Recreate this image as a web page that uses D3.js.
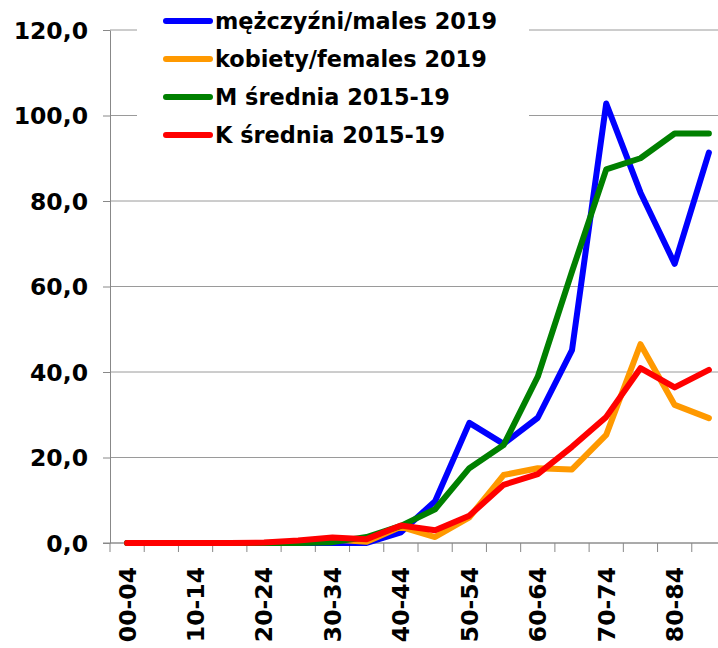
<!DOCTYPE html>
<html>
<head>
<meta charset="utf-8">
<script src="https://cdn.jsdelivr.net/npm/d3@7"></script>
<style>
  html, body { margin: 0; padding: 0; background: #fff; }
  svg { display: block; }
  text { font-family: "DejaVu Sans", Verdana, sans-serif; font-weight: bold; fill: #000; }
</style>
</head>
<body>
<svg id="chart" width="718" height="648"></svg>
<script>
// Age groups (5-year bands)
const categories = ["00-04","05-09","10-14","15-19","20-24","25-29","30-34","35-39","40-44",
                    "45-49","50-54","55-59","60-64","65-69","70-74","75-79","80-84","85+"];

// Rates per age group
const males2019   = [0,0,0,0,0,0,0,0,2.5,9.8,28.1,23.2,29.3,45.1,102.8,82.0,65.3,91.3];
const females2019 = [0,0,0,0,0,0.3,0.8,0.3,3.8,1.4,6.0,15.9,17.5,17.2,25.3,46.5,32.3,29.2];
const malesAvg    = [0,0,0,0,0,0,0.2,1.4,4.0,7.9,17.5,22.9,38.9,63.5,87.4,90.0,95.8,95.8];
const femalesAvg  = [0,0,0,0,0.1,0.6,1.3,0.9,4.1,3.0,6.4,13.6,16.1,22.5,29.5,40.9,36.4,40.5];

const seriesNames  = ["mężczyźni/males 2019","kobiety/females 2019","M średnia 2015-19","K średnia 2015-19"];
const seriesColors = ["#0000ff","#ff9900","#008000","#ff0000"];
const seriesValues = [males2019, females2019, malesAvg, femalesAvg];

const yTicks = [0,20,40,60,80,100,120];

const svg = d3.select("#chart");
const plotLeft = 110, plotRight = 726, plotTop = 30, plotBottom = 543;

const x = d3.scaleBand().domain(categories).range([plotLeft, plotRight]).padding(0);
const y = d3.scaleLinear().domain([0, 120]).range([plotBottom, plotTop]);
const fmt = v => d3.format(".1f")(v).replace(".", ",");

// Horizontal gridlines
svg.append("g")
  .selectAll("line").data(yTicks).join("line")
  .attr("x1", plotLeft).attr("x2", 718)
  .attr("y1", d => y(d)).attr("y2", d => y(d))
  .attr("stroke", "#9a9a9a").attr("stroke-width", 1);

// Y axis
const yAxis = svg.append("g")
  .attr("transform", `translate(${plotLeft},0)`)
  .call(d3.axisLeft(y).tickValues(yTicks).tickFormat(fmt).tickSize(7).tickSizeOuter(0).tickPadding(15));
yAxis.select(".domain").attr("stroke", "#888");
yAxis.selectAll(".tick line").attr("stroke", "#888");
yAxis.selectAll("text").style("font-size", "23.5px").attr("dy", "0.35em");

// X axis: ticks at band boundaries, labels on every second group
const xAxis = svg.append("g").attr("transform", `translate(0,${plotBottom})`);
xAxis.append("line").attr("x1", plotLeft - 7).attr("x2", 718)
  .attr("y1", 0).attr("y2", 0).attr("stroke", "#888");
xAxis.selectAll("line.tk").data(categories).join("line").attr("class", "tk")
  .attr("x1", d => x(d)).attr("x2", d => x(d))
  .attr("y1", 0).attr("y2", 9).attr("stroke", "#888");
xAxis.selectAll("text").data(categories.filter((d, i) => i % 2 === 0)).join("text")
  .attr("transform", d => `translate(${x(d) + x.bandwidth() / 2},24) rotate(-90)`)
  .attr("text-anchor", "end")
  .attr("dy", "0.36em")
  .style("font-size", "23.5px")
  .text(d => d);

// Legend box (white background over the gridlines)
const legend = svg.append("g");
legend.append("rect").attr("x", 137).attr("y", 0).attr("width", 392).attr("height", 160).attr("fill", "#fff");
const rowY = i => 21 + i * 38;
legend.selectAll("line").data(seriesNames).join("line")
  .attr("x1", 166).attr("x2", 210)
  .attr("y1", (d, i) => rowY(i)).attr("y2", (d, i) => rowY(i))
  .attr("stroke", (d, i) => seriesColors[i]).attr("stroke-width", 6).attr("stroke-linecap", "round");
legend.selectAll("text").data(seriesNames).join("text")
  .attr("x", 215).attr("y", (d, i) => rowY(i)).attr("dy", "0.35em")
  .style("font-size", "22.4px")
  .text(d => d);

// Series lines
const line = d3.line()
  .x((d, i) => x(categories[i]) + x.bandwidth() / 2)
  .y(d => y(d));
svg.append("g").selectAll("path").data(seriesValues).join("path")
  .attr("d", d => line(d))
  .attr("fill", "none")
  .attr("stroke", (d, i) => seriesColors[i])
  .attr("stroke-width", 6)
  .attr("stroke-linejoin", "round")
  .attr("stroke-linecap", "round");
</script>
</body>
</html>
